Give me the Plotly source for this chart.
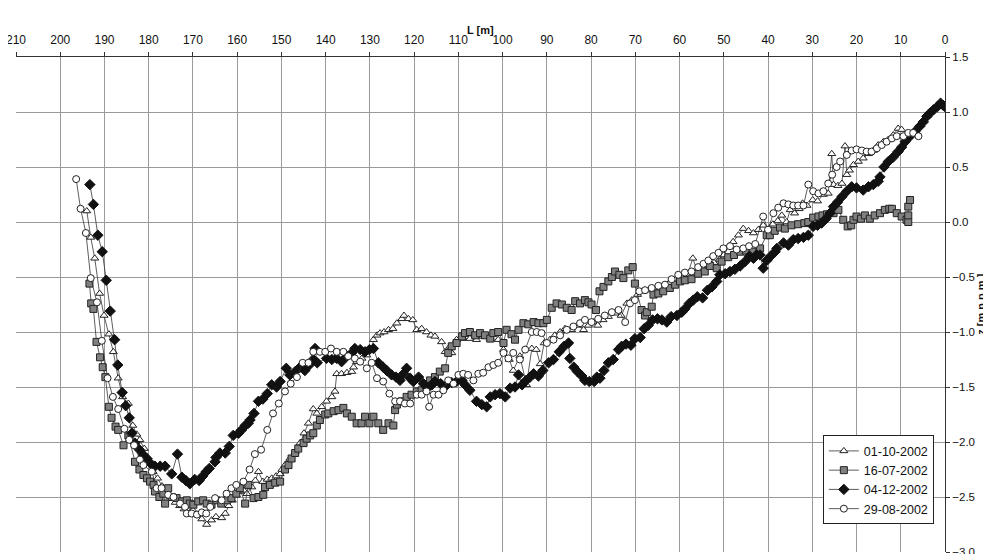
import plotly.graph_objects as go

# ---- data: L [m] and z [m n.p.m.] ----
L_0110 = [194.0,193.1,192.2,191.1,190.1,189.0,188.0,186.9,185.9,184.6,183.6,182.7,182.0,181.0,180.1,179.0,178.0,177.0,176.0,175.0,
          174.0,173.0,172.0,171.0,170.0,169.0,168.0,166.9,165.8,164.8,163.5,162.7,161.9,161.1,160.2,159.3,158.5,157.8,156.7,155.9,
          155.2,154.2,153.2,152.2,151.2,150.3,149.9,149.2,148.1,146.9,145.8,144.9,143.9,142.8,142.0,140.9,139.8,138.6,137.9,137.5,
          136.4,135.2,134.1,133.7,133.0,131.8,130.7,129.6,129.2,128.4,127.7,126.8,125.8,124.8,123.9,122.8,122.3,121.3,120.3,119.4,
          118.3,117.2,116.2,115.3,113.8,113.0,111.9,111.5,110.4,108.9,107.4,105.9,104.4,102.8,101.0,99.8,98.5,97.6,96.1,94.6,
          93.4,92.4,91.5,90.6,89.3,88.2,87.0,85.9,84.4,82.9,81.7,80.6,79.5,78.5,77.3,76.1,74.6,73.2,71.9,70.8,
          69.5,68.2,66.8,65.3,63.8,62.3,60.8,59.4,58.2,57.0,56.0,54.8,53.5,52.2,51.0,50.0,48.8,47.9,46.7,45.6,
          44.4,43.3,42.2,41.1,40.0,38.9,37.8,36.9,35.8,35.0,34.0,33.0,32.2,31.2,29.9,28.8,27.5,26.4,25.6,25.2,
          24.2,23.3,22.6,22.2,21.6,20.7,19.6,18.5,17.3,16.2,15.1,13.9,12.8,11.7,10.6,9.8]
Z_0110 = [0.10,-0.14,-0.33,-0.65,-0.85,-1.02,-1.18,-1.42,-1.59,-1.65,-1.85,-1.93,-1.98,-2.06,-2.16,-2.27,-2.33,-2.40,-2.45,-2.50,
          -2.55,-2.58,-2.61,-2.63,-2.62,-2.66,-2.70,-2.75,-2.71,-2.68,-2.69,-2.65,-2.58,-2.53,-2.48,-2.45,-2.44,-2.47,-2.41,-2.35,
          -2.27,-2.36,-2.34,-2.33,-2.31,-2.29,-2.25,-2.21,-2.15,-2.09,-2.01,-1.92,-1.83,-1.70,-1.74,-1.68,-1.63,-1.59,-1.54,-1.38,
          -1.38,-1.37,-1.36,-1.32,-1.27,-1.24,-1.21,-1.16,-1.07,-1.03,-1.01,-1.00,-0.98,-0.97,-0.92,-0.88,-0.85,-0.88,-0.89,-0.98,
          -0.97,-1.00,-1.03,-1.04,-1.09,-1.18,-1.13,-1.19,-1.07,-1.06,-1.06,-1.07,-1.04,-1.06,-1.07,-1.16,-1.25,-1.35,-1.22,-1.48,
          -1.15,-1.16,-1.29,-1.10,-1.07,-1.03,-1.00,-0.97,-0.98,-0.94,-0.98,-0.94,-0.91,-0.94,-0.89,-0.86,-0.83,-0.85,-0.74,-0.71,
          -0.66,-0.63,-0.62,-0.60,-0.58,-0.55,-0.52,-0.50,-0.48,-0.33,-0.45,-0.42,-0.40,-0.37,-0.34,-0.30,-0.22,-0.18,-0.12,-0.06,
          -0.08,-0.10,-0.07,-0.03,-0.07,-0.02,0.01,0.06,0.00,0.11,0.08,0.12,0.17,0.15,0.20,0.19,0.25,0.26,0.62,0.34,
          0.33,0.35,0.69,0.43,0.47,0.52,0.55,0.58,0.62,0.65,0.70,0.73,0.75,0.79,0.85,0.84]

L_1607 = [193.4,193.0,192.5,191.8,191.0,190.4,189.8,189.0,188.4,187.5,186.9,185.7,184.6,183.1,182.1,181.2,180.4,179.7,178.9,178.6,
          177.6,176.7,176.3,175.6,174.8,173.7,172.5,171.4,170.7,169.9,168.8,167.7,166.9,165.8,164.7,163.6,162.4,161.3,160.2,159.4,
          158.2,157.5,156.3,155.2,154.1,153.7,152.6,151.4,150.3,149.2,148.4,147.7,146.9,146.2,145.0,144.3,143.5,142.8,142.0,141.3,
          140.1,139.4,138.2,137.1,136.0,135.2,134.1,133.0,131.9,131.1,130.1,129.2,128.1,127.0,125.8,124.7,124.3,123.9,122.8,121.7,
          120.6,119.4,118.3,117.2,116.4,115.3,114.2,113.0,112.3,111.5,110.4,109.2,108.5,107.4,106.2,105.1,104.0,102.8,102.1,101.0,
          99.8,99.1,98.0,97.2,96.4,95.3,94.2,93.0,91.9,90.8,90.0,88.9,87.8,86.6,85.5,84.4,83.6,82.5,81.4,80.6,
          79.9,78.9,78.1,77.2,76.1,75.3,74.6,73.6,72.7,71.6,70.6,70.1,68.6,67.8,67.4,66.3,65.9,64.8,63.7,62.2,
          61.0,59.9,58.8,57.3,55.8,54.3,53.1,51.6,50.5,49.0,47.7,46.3,45.0,43.5,41.8,40.3,39.6,38.5,37.3,36.2,
          34.7,33.2,31.8,30.9,29.8,28.6,27.7,26.7,25.2,24.1,23.0,22.0,21.2,20.7,20.0,19.0,18.1,17.0,15.9,14.7,
          13.6,12.6,12.0,10.9,9.8,8.7,8.3,8.3,8.3,7.9]
Z_1607 = [-0.56,-0.74,-0.79,-1.09,-1.23,-1.32,-1.41,-1.68,-1.78,-1.86,-1.89,-2.03,-1.94,-2.18,-2.25,-2.30,-2.33,-2.36,-2.39,-2.45,
          -2.50,-2.47,-2.56,-2.42,-2.50,-2.51,-2.54,-2.53,-2.56,-2.57,-2.54,-2.53,-2.56,-2.57,-2.53,-2.56,-2.53,-2.51,-2.47,-2.42,
          -2.56,-2.39,-2.51,-2.50,-2.48,-2.41,-2.39,-2.37,-2.36,-2.25,-2.21,-2.15,-2.10,-2.06,-2.01,-1.97,-1.94,-1.92,-1.85,-1.80,
          -1.75,-1.74,-1.72,-1.71,-1.69,-1.74,-1.77,-1.83,-1.83,-1.77,-1.83,-1.77,-1.83,-1.89,-1.83,-1.85,-1.71,-1.66,-1.63,-1.59,
          -1.57,-1.54,-1.53,-1.50,-1.44,-1.41,-1.36,-1.33,-1.19,-1.13,-1.10,-1.04,-1.01,-1.00,-1.03,-1.01,-1.03,-1.06,-1.01,-1.00,
          -1.10,-0.98,-1.02,-1.07,-0.98,-0.92,-0.93,-0.91,-0.92,-0.92,-0.89,-0.78,-0.74,-0.75,-0.78,-0.80,-0.72,-0.74,-0.71,-0.73,
          -0.75,-0.80,-0.63,-0.59,-0.54,-0.50,-0.45,-0.48,-0.51,-0.44,-0.41,-0.56,-0.80,-0.85,-0.82,-0.77,-0.66,-0.65,-0.63,-0.60,
          -0.57,-0.54,-0.53,-0.52,-0.47,-0.45,-0.40,-0.42,-0.36,-0.32,-0.30,-0.27,-0.26,-0.27,-0.24,-0.12,-0.12,-0.08,-0.05,-0.06,
          -0.03,-0.02,-0.01,0.00,0.04,0.05,0.06,0.07,0.08,0.11,0.02,-0.04,-0.03,0.02,0.05,0.03,0.06,0.03,0.06,0.08,
          0.11,0.12,0.12,0.08,0.05,0.02,0.00,0.06,0.14,0.20]

L_0412 = [193.3,192.5,191.5,190.5,189.6,188.7,187.7,187.0,186.0,185.2,184.4,183.8,183.1,182.1,181.2,180.4,179.7,178.6,177.4,176.3,
          174.8,173.5,172.5,171.6,170.7,169.6,168.6,167.8,167.0,166.3,165.0,164.8,163.9,162.7,161.8,160.9,159.7,159.0,158.2,157.5,
          157.1,156.2,155.2,154.2,153.2,152.2,151.1,150.3,148.9,148.1,146.9,145.8,144.7,143.7,142.8,142.4,141.9,139.8,138.6,137.5,
          136.4,135.2,134.1,133.4,132.2,131.1,130.1,129.2,128.1,127.0,126.2,125.1,124.1,123.2,122.4,121.7,120.9,120.2,119.0,117.9,
          116.8,116.0,115.3,114.0,112.6,111.5,110.4,109.2,108.5,107.4,105.9,104.7,103.6,102.8,101.7,100.6,99.4,98.3,97.2,96.4,
          95.6,94.7,93.8,93.0,91.9,90.9,89.6,88.5,87.2,86.1,85.1,84.8,83.9,83.1,82.1,81.4,80.4,79.3,78.7,78.0,
          77.1,76.1,75.0,73.8,73.1,72.1,71.0,70.1,68.9,68.0,67.1,66.1,65.0,64.0,62.9,61.9,60.6,59.5,58.8,57.8,
          56.9,56.0,54.8,53.7,52.7,51.6,50.9,49.7,48.6,47.5,46.3,45.2,44.2,43.3,42.6,41.8,41.1,40.3,39.4,38.4,
          38.0,36.5,35.4,34.3,33.2,32.0,30.9,29.8,28.8,27.9,26.9,26.0,25.2,24.3,23.3,22.2,21.1,20.0,18.5,17.3,
          16.2,15.1,14.7,13.8,12.8,11.7,10.6,9.8,9.0,7.9,6.8,5.7,4.9,4.1,3.4,2.6,1.7,1.0,0.4,0.0]
Z_0412 = [0.34,0.16,-0.12,-0.27,-0.53,-0.81,-1.07,-1.30,-1.55,-1.67,-1.78,-1.92,-2.01,-2.07,-2.12,-2.15,-2.19,-2.22,-2.22,-2.22,
          -2.29,-2.11,-2.32,-2.35,-2.38,-2.34,-2.35,-2.31,-2.27,-2.24,-2.18,-2.14,-2.10,-2.10,-2.04,-1.94,-1.92,-1.89,-1.85,-1.83,
          -1.80,-1.74,-1.63,-1.61,-1.56,-1.48,-1.50,-1.45,-1.33,-1.39,-1.36,-1.32,-1.35,-1.30,-1.25,-1.15,-1.28,-1.24,-1.25,-1.24,
          -1.27,-1.22,-1.19,-1.15,-1.16,-1.18,-1.16,-1.15,-1.28,-1.32,-1.35,-1.39,-1.41,-1.44,-1.38,-1.33,-1.42,-1.45,-1.41,-1.47,
          -1.50,-1.48,-1.45,-1.47,-1.48,-1.46,-1.45,-1.44,-1.48,-1.53,-1.63,-1.66,-1.68,-1.59,-1.57,-1.56,-1.59,-1.51,-1.50,-1.39,
          -1.48,-1.44,-1.41,-1.38,-1.40,-1.35,-1.28,-1.25,-1.18,-1.13,-1.10,-1.24,-1.32,-1.36,-1.40,-1.44,-1.45,-1.45,-1.41,-1.42,
          -1.35,-1.28,-1.25,-1.16,-1.13,-1.11,-1.12,-1.06,-1.05,-0.97,-0.94,-0.89,-0.88,-0.89,-0.91,-0.86,-0.85,-0.82,-0.79,-0.74,
          -0.71,-0.68,-0.69,-0.62,-0.59,-0.54,-0.48,-0.47,-0.45,-0.43,-0.40,-0.36,-0.31,-0.33,-0.30,-0.30,-0.42,-0.35,-0.31,-0.27,
          -0.24,-0.19,-0.21,-0.16,-0.15,-0.14,-0.12,-0.04,-0.03,-0.01,0.03,0.08,0.14,0.18,0.23,0.28,0.32,0.31,0.29,0.32,
          0.34,0.37,0.41,0.50,0.55,0.59,0.64,0.68,0.73,0.78,0.82,0.87,0.91,0.96,0.99,1.02,1.05,1.08,1.06,1.05]

L_2908 = [196.4,195.4,194.2,193.1,191.7,190.6,189.3,188.1,186.9,185.5,184.4,183.3,182.0,181.2,179.3,178.2,177.1,175.6,174.4,172.9,
          171.8,171.4,170.3,169.1,168.0,167.0,166.1,165.0,163.5,162.4,161.3,160.2,158.6,157.2,156.0,154.6,153.2,151.9,150.6,149.2,
          147.9,146.5,145.2,143.9,142.8,141.3,140.1,138.8,137.5,136.0,134.9,133.4,132.2,130.7,129.6,128.4,127.0,125.6,124.3,123.2,
          122.1,120.9,119.4,118.3,117.2,116.6,115.6,114.5,113.4,112.3,111.1,110.0,108.9,107.8,106.6,105.5,104.4,103.2,102.1,101.0,
          99.8,98.7,97.6,96.1,94.9,93.4,92.3,91.2,90.0,88.5,87.0,85.5,84.0,82.5,81.4,79.9,78.4,76.9,75.3,73.8,
          72.3,71.2,70.1,69.1,67.8,66.3,64.8,63.3,61.8,60.3,58.8,57.3,55.8,54.6,53.5,52.4,51.2,50.1,48.6,47.1,
          45.6,44.3,42.9,41.1,40.0,38.8,37.7,36.5,35.4,34.3,33.2,32.0,30.9,29.8,28.6,27.5,26.4,25.5,24.5,23.7,
          22.2,21.1,20.0,18.8,17.7,16.6,15.4,14.3,13.2,12.0,10.9,9.4,8.3,7.2,6.0]
Z_2908 = [0.39,0.12,-0.10,-0.51,-0.73,-1.08,-1.42,-1.59,-1.70,-1.88,-1.98,-2.03,-2.16,-2.21,-2.27,-2.42,-2.42,-2.48,-2.50,-2.56,
          -2.59,-2.65,-2.65,-2.66,-2.64,-2.65,-2.59,-2.51,-2.53,-2.47,-2.42,-2.39,-2.36,-2.25,-2.11,-2.07,-1.89,-1.74,-1.65,-1.54,
          -1.47,-1.41,-1.28,-1.28,-1.18,-1.18,-1.18,-1.15,-1.18,-1.18,-1.22,-1.24,-1.27,-1.33,-1.28,-1.42,-1.45,-1.56,-1.63,-1.63,
          -1.65,-1.65,-1.57,-1.57,-1.54,-1.68,-1.57,-1.57,-1.53,-1.44,-1.47,-1.39,-1.38,-1.39,-1.44,-1.38,-1.37,-1.32,-1.30,-1.28,
          -1.19,-1.24,-1.19,-1.25,-1.16,-1.00,-1.00,-1.01,-1.10,-1.07,-1.03,-0.98,-0.95,-0.92,-0.89,-0.91,-0.88,-0.85,-0.82,-0.80,
          -0.91,-0.74,-0.71,-0.63,-0.62,-0.60,-0.58,-0.57,-0.52,-0.48,-0.46,-0.45,-0.41,-0.38,-0.35,-0.31,-0.28,-0.24,-0.22,-0.25,
          -0.24,-0.22,-0.20,0.05,-0.07,0.08,0.13,0.17,0.16,0.15,0.15,0.15,0.34,0.28,0.26,0.28,0.35,0.43,0.50,0.55,
          0.61,0.65,0.66,0.65,0.64,0.64,0.67,0.70,0.73,0.76,0.78,0.78,0.81,0.81,0.78]

X_TICKS = list(range(0, 211, 10))
Y_TICKS = [-3.0, -2.5, -2.0, -1.5, -1.0, -0.5, 0.0, 0.5, 1.0, 1.5]
X_TITLE = "L [m]"
Y_TITLE = "z [m n.p.m.]"

FONT = "Arial, 'Liberation Sans', sans-serif"
LINE = dict(color="#333333", width=0.8)

fig = go.Figure()
fig.add_trace(go.Scatter(x=L_0110, y=Z_0110, name="01-10-2002", mode="lines+markers", line=LINE,
                         marker=dict(symbol="triangle-up", size=7, color="white", line=dict(color="#222", width=1))))
fig.add_trace(go.Scatter(x=L_1607, y=Z_1607, name="16-07-2002", mode="lines+markers", line=LINE,
                         marker=dict(symbol="square", size=7, color="#808080", line=dict(color="#222", width=1))))
fig.add_trace(go.Scatter(x=L_0412, y=Z_0412, name="04-12-2002", mode="lines+markers", line=LINE,
                         marker=dict(symbol="diamond", size=8, color="#111", line=dict(color="#111", width=1))))
fig.add_trace(go.Scatter(x=L_2908, y=Z_2908, name="29-08-2002", mode="lines+markers", line=LINE,
                         marker=dict(symbol="circle", size=7, color="white", line=dict(color="#222", width=1))))

# the page body has an 8 px margin, so the figure is sized/offset to compensate
fig.update_layout(
    width=983, height=546,
    margin=dict(l=8, r=46, t=49, b=2, autoexpand=False),
    paper_bgcolor="white", plot_bgcolor="white",
    font=dict(family=FONT, size=12, color="#111"),
    showlegend=True,
    legend=dict(x=0.988, y=0.056, xanchor="right", yanchor="bottom",
                bgcolor="white", bordercolor="#222", borderwidth=1,
                font=dict(size=12.5, family=FONT), tracegroupgap=0,
                itemwidth=30),
    xaxis=dict(side="top", range=[210, 0], tickvals=X_TICKS, ticktext=[str(v) for v in X_TICKS],
               automargin=False, ticklabeloverflow="allow", ticklabelstandoff=3,
               showgrid=True, gridcolor="#9a9a9a", gridwidth=1,
               showline=True, linecolor="#333", linewidth=1,
               ticks="outside", ticklen=4, tickcolor="#333",
               tickfont=dict(size=12),
               zeroline=False),
    yaxis=dict(side="right", range=[-3.0, 1.5], tickvals=Y_TICKS, tickformat=".1f",
               automargin=False, ticklabeloverflow="allow",
               showgrid=True, gridcolor="#9a9a9a", gridwidth=1,
               showline=True, linecolor="#333", linewidth=1,
               ticks="outside", ticklen=4, tickcolor="#333",
               tickfont=dict(size=11.5),
               zeroline=False),
    annotations=[
        dict(text="<b>%s</b>" % X_TITLE, xref="paper", yref="paper", x=0.5, y=1.055,
             xanchor="center", yanchor="middle", showarrow=False, font=dict(size=11, family=FONT)),
        dict(text="<b>%s</b>" % Y_TITLE, xref="paper", yref="paper", x=1.038, y=0.5, textangle=-90,
             xanchor="center", yanchor="middle", showarrow=False, font=dict(size=11, family=FONT)),
    ],
)

fig.write_html("out.html")
